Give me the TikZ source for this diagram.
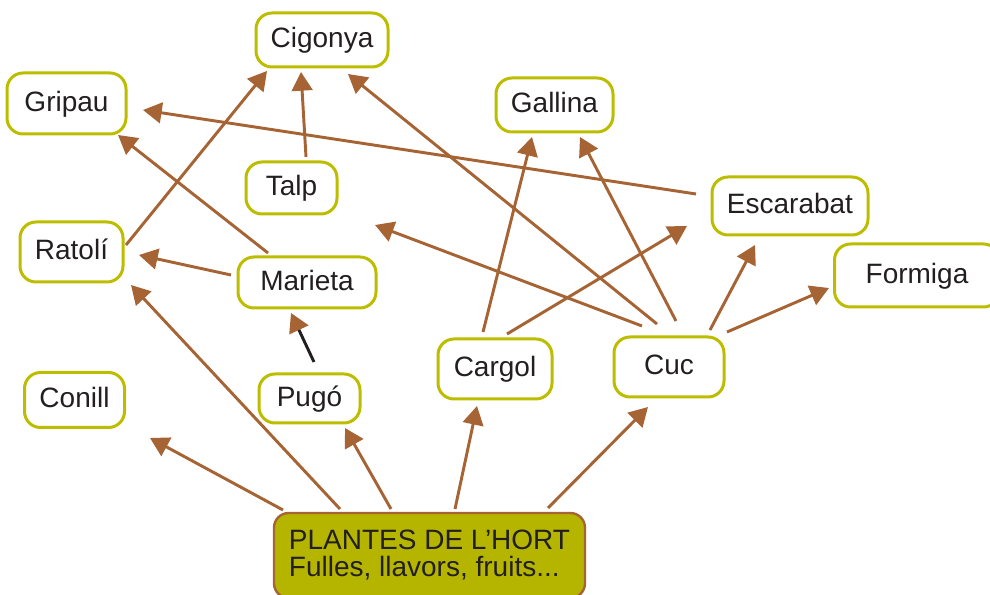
\documentclass[tikz,border=0pt]{standalone}
\usepackage{fontspec}
\setmainfont{Liberation Sans}
\usetikzlibrary{arrows.meta}
\definecolor{olivebd}{RGB}{189,189,0}
\definecolor{arrbrown}{RGB}{166,99,51}
\definecolor{plafill}{RGB}{181,181,0}
\definecolor{txt}{RGB}{35,31,32}
\begin{document}
\begin{tikzpicture}[x=0.75pt,y=-0.75pt,
  box/.style={draw=olivebd, line width=2.25pt, fill=white, rounded corners=12pt,
    inner sep=0pt, text=txt, font=\fontsize{21pt}{20.25pt}\selectfont,
    text height=15pt, text depth=3pt},
  plabox/.style={draw=arrbrown, line width=1.8pt, fill=plafill, rounded corners=11pt,
    inner sep=0pt, text=txt, font=\fontsize{21pt}{20.25pt}\selectfont, align=left},
  arr/.style={draw=arrbrown, line width=2.2pt, -{Triangle[length=14pt,width=15.5pt]}},
  blackarr/.style={draw=txt, line width=2.2pt, -{Triangle[length=14pt,width=15.5pt,color=arrbrown]}}]
\useasboundingbox (0,0) rectangle (990,595);

\node[box, minimum width=99pt,    minimum height=40.5pt]  (cig)  at (322,40)     {Cigonya};
\node[box, minimum width=89.25pt, minimum height=45.75pt] (gri)  at (66.5,103.5) {Gripau};
\node[box, minimum width=87.75pt, minimum height=40.5pt]  (gal)  at (554.5,105)  {Gallina};
\node[box, minimum width=68.25pt, minimum height=39pt]    (talp) at (291.5,188)  {Talp};
\node[box, minimum width=117pt,   minimum height=43.5pt]  (esc)  at (790,206)    {Escarabat};
\node[box, minimum width=77.25pt, minimum height=45pt]    (rat)  at (71.5,252)   {Ratolí};
\node[box, minimum width=103.5pt, minimum height=38.25pt] (mar)  at (307,282.5)  {Marieta};
\node[box, minimum width=123.75pt,minimum height=47.25pt] (form) at (917,275.5)  {Formiga};
\node[box, minimum width=85.5pt,  minimum height=45pt]    (car)  at (495,369)    {Cargol};
\node[box, minimum width=82.5pt,  minimum height=45pt]    (cuc)  at (669,367)    {Cuc};
\node[box, minimum width=75pt,    minimum height=41.25pt] (con)  at (74.5,400)   {Conill};
\node[box, minimum width=75.75pt, minimum height=36.75pt] (pug)  at (309.5,398.5){Pugó};
\node[plabox, minimum width=233.25pt, minimum height=63.75pt] (pla) at (429.5,555.5)
  {PLANTES DE L’HORT\\Fulles, llavors, fruits...};

\draw[arr] ([shift={(-146.5,-45.5)}]pla.center) -- ([shift={(75.5,38)}]con.center);
\draw[arr] ([shift={(-89.5,-46.5)}]pla.center) -- ([shift={(59.5,33)}]rat.center);
\draw[arr] ([shift={(-38.5,-46.5)}]pla.center) -- ([shift={(35.5,29.5)}]pug.center);
\draw[arr] ([shift={(25.5,-46.5)}]pla.center) -- ([shift={(-18,37)}]car.center);
\draw[arr] ([shift={(118.5,-47.5)}]pla.center) -- ([shift={(-21,40)}]cuc.center);
\draw[blackarr] ([shift={(4.5,-36.5)}]pug.center) -- ([shift={(-16,30.5)}]mar.center);
\draw[arr] ([shift={(-76,-7.5)}]mar.center) -- ([shift={(67.5,3)}]rat.center);
\draw[arr] ([shift={(-39,-29.5)}]mar.center) -- ([shift={(51.5,31.5)}]gri.center);
\draw[arr] ([shift={(54.5,-7)}]rat.center) -- ([shift={(-55,31)}]cig.center);
\draw[arr] ([shift={(14.5,-31)}]talp.center) -- ([shift={(-21,32)}]cig.center);
\draw[arr] ([shift={(-12,-43)}]cuc.center) -- ([shift={(26,34)}]cig.center);
\draw[arr] ([shift={(-94,-12)}]esc.center) -- ([shift={(76.5,6.5)}]gri.center);
\draw[arr] ([shift={(-12,-37)}]car.center) -- ([shift={(-22.5,32)}]gal.center);
\draw[arr] ([shift={(12,-35)}]car.center) -- ([shift={(-103,20)}]esc.center);
\draw[arr] ([shift={(7,-46)}]cuc.center) -- ([shift={(25.5,32)}]gal.center);
\draw[arr] ([shift={(-27,-41)}]cuc.center) -- ([shift={(83.5,37)}]talp.center);
\draw[arr] ([shift={(41,-37)}]cuc.center) -- ([shift={(-35,39)}]esc.center);
\draw[arr] ([shift={(58,-35)}]cuc.center) -- ([shift={(-88,12.5)}]form.center);
\end{tikzpicture}
\end{document}
